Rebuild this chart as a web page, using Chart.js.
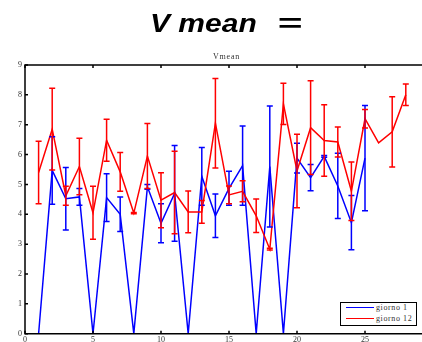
<!DOCTYPE html>
<html>
<head>
<meta charset="utf-8">
<script src="https://cdn.jsdelivr.net/npm/chart.js@4/dist/chart.umd.min.js"></script>
<style>
  html, body { margin:0; padding:0; background:#fff; }
  #wrap { position:relative; width:422px; height:342px; overflow:hidden; }
  #c { position:absolute; left:0; top:0; }
  .title { position:absolute; font-family:"Liberation Sans", Arial, sans-serif; font-weight:bold; font-style:italic;
           font-size:25px; line-height:25px; color:#000; white-space:nowrap; transform-origin:left top; }
  .sub { position:absolute; font-family:"Liberation Serif", serif; font-size:8px; line-height:8px; color:#333; letter-spacing:0.8px; white-space:nowrap; }
  #legend { position:absolute; left:340px; top:302px; width:75px; height:22px; border:1.5px solid #000; background:#fff; }
  .lg { position:absolute; left:5px; width:28px; height:0; border-top:1.5px solid; }
  .lt { position:absolute; left:35px; font-family:"Liberation Serif", serif; font-size:8px; line-height:8px; color:#333; letter-spacing:0.6px; white-space:nowrap; }
</style>
</head>
<body>
<div id="wrap">
  <canvas id="c" width="422" height="342"></canvas>
  <div class="title" style="left:150px; top:11px; transform:scaleX(1.2);">V mean</div>
  <div class="title" style="left:277px; top:11px; transform:scaleX(1.7);">=</div>
  <div class="sub" style="left:213px; top:53px;">Vmean</div>
  <div id="legend">
    <div class="lg" style="top:4px; border-color:#0000ff;"></div>
    <div class="lt" style="top:1px;">giorno 1</div>
    <div class="lg" style="top:15px; border-color:#ff0000;"></div>
    <div class="lt" style="top:12px;">giorno 12</div>
  </div>
</div>
<script>
const blueX    = [1,2,3,4,5,6,7,8,9,10,11,12,13,14,15,16,17,18,19,20,21,22,23,24,25];
const blueMean = [0,5.47,4.52,4.58,0,4.56,4.0,0,4.92,3.7,4.7,0,5.27,3.95,4.87,5.63,0,5.6,0,5.88,5.23,5.94,4.95,3.72,5.88];
const blueErr  = [0,1.13,1.05,0.28,0,0.8,0.58,0,0.08,0.65,1.6,0,0.97,0.73,0.57,1.33,0,2.03,0,0.5,0.44,0.03,1.09,0.91,1.76];

const redX    = [1,2,3,4,5,6,7,8,9,10,11,12,13,14,15,16,17,18,19,20,21,22,23,24,25,26,27,28];
const redMean = [5.4,6.85,4.62,5.6,4.05,6.48,5.42,4.04,5.95,4.47,4.73,4.08,4.08,7.05,4.65,4.77,3.95,2.83,7.7,5.45,6.9,6.47,6.42,4.77,7.2,6.39,6.76,8.0];
const redErr  = [1.05,1.37,0.32,0.95,0.89,0.7,0.65,0.02,1.09,0.92,1.38,0.7,0.38,1.5,0.3,0.35,0.56,0.03,0.69,1.23,1.57,1.2,0.5,0.98,0.31,0,1.18,0.36];

const xTicks = [0,5,10,15,20,25];
const yTicks = [0,1,2,3,4,5,6,7,8,9];
const seriesNames = ["giorno 1","giorno 12"];

const toPts = (xs, ys) => xs.map((x,i)=>({x:x, y:ys[i]}));

const errorBarPlugin = {
  id:'errbars',
  afterDatasetsDraw(chart){
    const ctx = chart.ctx, xs = chart.scales.x, ys = chart.scales.y;
    ctx.save();
    chart.data.datasets.slice().reverse().forEach(ds=>{
      ctx.strokeStyle = ds.borderColor;
      ctx.lineWidth = 1.5;
      ds.data.forEach((p,i)=>{
        const e = ds.errs[i];
        if (!e) return;
        const px = xs.getPixelForValue(p.x);
        const y1 = ys.getPixelForValue(p.y+e), y2 = ys.getPixelForValue(p.y-e);
        ctx.beginPath();
        ctx.moveTo(px,y1); ctx.lineTo(px,y2);
        ctx.moveTo(px-3,y1); ctx.lineTo(px+3,y1);
        ctx.moveTo(px-3,y2); ctx.lineTo(px+3,y2);
        ctx.stroke();
      });
    });
    ctx.restore();
  },
  afterDraw(chart){
    const ctx = chart.ctx, a = chart.chartArea, xs = chart.scales.x, ys = chart.scales.y;
    const W = chart.width;
    ctx.save();
    ctx.strokeStyle = '#000';
    ctx.lineWidth = 1.5;
    ctx.beginPath();
    ctx.moveTo(W, a.top); ctx.lineTo(a.left, a.top); ctx.lineTo(a.left, a.bottom); ctx.lineTo(W, a.bottom);
    ctx.stroke();
    const L = 3;
    ctx.beginPath();
    xTicks.forEach(v=>{
      const px = xs.getPixelForValue(v);
      ctx.moveTo(px,a.bottom); ctx.lineTo(px,a.bottom-L);
      ctx.moveTo(px,a.top); ctx.lineTo(px,a.top+L);
    });
    yTicks.forEach(v=>{
      const py = ys.getPixelForValue(v);
      ctx.moveTo(a.left,py); ctx.lineTo(a.left+L,py);
    });
    ctx.stroke();
    ctx.restore();
  }
};

new Chart(document.getElementById('c'), {
  type:'line',
  data:{
    datasets:[
      { label:seriesNames[1], data:toPts(redX, redMean), errs:redErr, borderColor:'#ff0000', borderWidth:1.5, pointRadius:0, tension:0, fill:false, order:0 },
      { label:seriesNames[0], data:toPts(blueX, blueMean), errs:blueErr, borderColor:'#0000ff', borderWidth:1.5, pointRadius:0, tension:0, fill:false, order:1 }
    ]
  },
  options:{
    responsive:false,
    animation:false,
    events:[],
    layout:{ padding:{ top:65, right:2.6, left:0, bottom:0 } },
    plugins:{ legend:{display:false}, title:{display:false}, tooltip:{enabled:false} },
    scales:{
      x:{
        type:'linear', min:0, max:29,
        afterBuildTicks(s){ s.ticks = xTicks.map(v=>({value:v})); },
        afterFit(s){ s.height = 8.3; },
        grid:{ display:false, drawTicks:false },
        border:{ display:false },
        ticks:{ padding:1, font:{ family:'"Liberation Serif", serif', size:8 }, color:'#333', maxRotation:0 }
      },
      y:{
        type:'linear', min:0, max:9,
        afterBuildTicks(s){ s.ticks = yTicks.map(v=>({value:v})); },
        afterFit(s){ s.width = 25; },
        grid:{ display:false, drawTicks:false },
        border:{ display:false },
        ticks:{ padding:3, font:{ family:'"Liberation Serif", serif', size:8 }, color:'#333' }
      }
    }
  },
  plugins:[errorBarPlugin]
});
</script>
</body>
</html>
